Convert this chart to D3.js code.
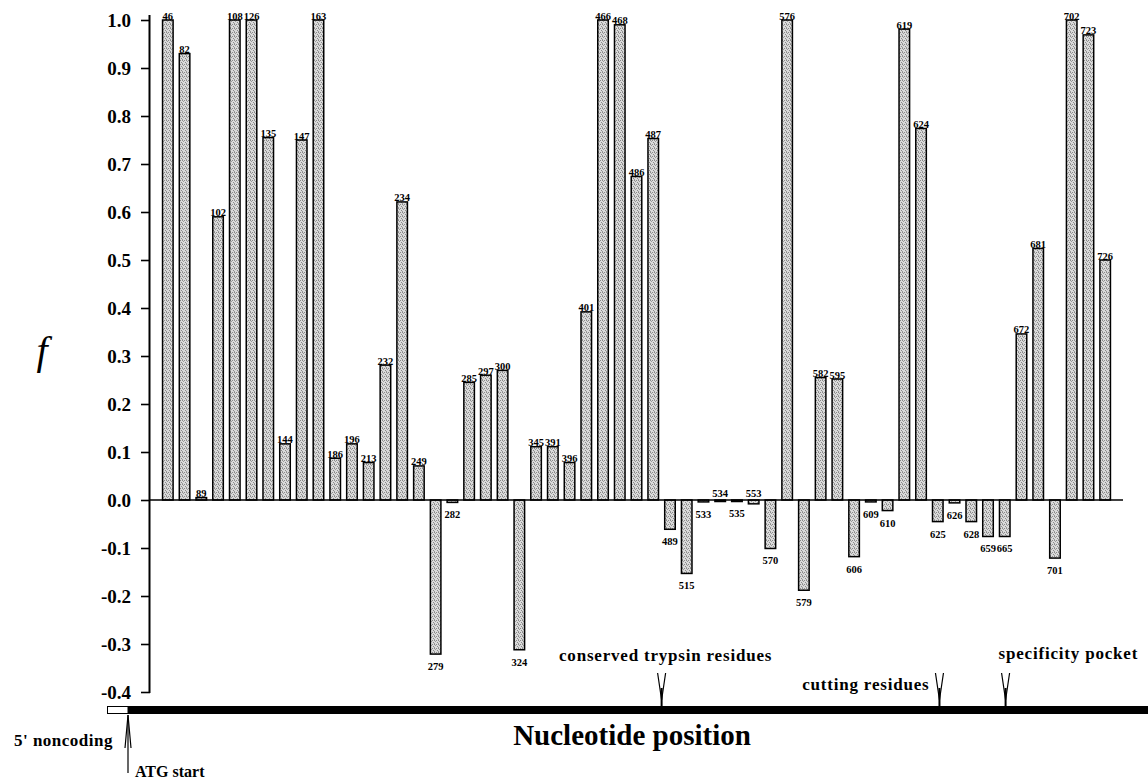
<!DOCTYPE html>
<html>
<head>
<meta charset="utf-8">
<script src="https://cdn.jsdelivr.net/npm/d3@7"></script>
<style>
	body { margin: 0; background: #ffffff; }
	svg { display: block; }
	text { font-family: 'Liberation Serif', 'Times New Roman', serif; font-weight: bold; fill: #000; }
</style>
</head>
<body>
<svg id="chart"></svg>
<script>
// ========== DATA ==========
var positions = ['46', '82', '89', '102', '108', '126', '135', '144', '147', '163',
	'186', '196', '213', '232', '234', '249', '279', '282', '285', '297',
	'300', '324', '345', '391', '396', '401', '466', '468', '486', '487',
	'489', '515', '533', '534', '535', '553', '570', '576', '579', '582',
	'595', '606', '609', '610', '619', '624', '625', '626', '628', '659',
	'665', '672', '681', '701', '702', '723', '726'];

var fValues = [1.0, 0.93, 0.005, 0.59, 1.0, 1.0, 0.755, 0.117, 0.75, 1.0,
	0.087, 0.117, 0.078, 0.281, 0.621, 0.071, -0.321, -0.005, 0.245, 0.26,
	0.27, -0.312, 0.111, 0.111, 0.078, 0.392, 1.0, 0.99, 0.674, 0.753,
	-0.061, -0.153, -0.004, -0.003, -0.003, -0.008, -0.101, 1.0, -0.188, 0.255,
	0.252, -0.118, -0.004, -0.022, 0.981, 0.774, -0.045, -0.006, -0.045, -0.076,
	-0.076, 0.346, 0.524, -0.121, 1.0, 0.969, 0.5];

// near-zero bars whose number sits above the axis anyway
var labelsAbove = ['534', '553'];

var yTicks = [-0.4, -0.3, -0.2, -0.1, 0.0, 0.1, 0.2, 0.3, 0.4, 0.5, 0.6, 0.7, 0.8, 0.9, 1.0];

// annotations on the nucleotide track: text, anchor position, shift in bar steps
var annotNames = ['conserved trypsin residues', 'cutting residues', 'specificity pocket'];
var annotAnchors = ['489', '625', '665'];
var annotShift = [-0.5, 0.1, 0.05];

// ========== LAYOUT ==========
var plotWidth = 1148;
var plotHeight = 783;
var plotLeft = 150;
var plotRight = 1123;
var plotTop = 20;
var zeroY = 500;

var data = positions.map(function(p, i) { return { pos: p, f: fValues[i] }; });

var svg = d3.select('#chart')
	.attr('width', plotWidth)
	.attr('height', plotHeight);

// stipple fill like the printed bars
var pat = svg.append('defs').append('pattern')
	.attr('id', 'stipple')
	.attr('width', 4)
	.attr('height', 4)
	.attr('patternUnits', 'userSpaceOnUse');
pat.append('rect').attr('width', 4).attr('height', 4).attr('fill', '#dadada');
[[0, 0], [3, 1], [1, 2], [2, 3], [2, 0]].forEach(function(p, i) {
	pat.append('rect')
		.attr('x', p[0]).attr('y', p[1])
		.attr('width', 1).attr('height', 1)
		.attr('fill', i % 2 ? '#9a9a9a' : '#8a8a8a');
});

var x = d3.scaleBand()
	.domain(positions)
	.range([plotLeft, plotRight])
	.paddingInner(0.37)
	.paddingOuter(0.75);

var y = d3.scaleLinear()
	.domain([0, 1])
	.range([zeroY, plotTop]);

// y axis
var yAxis = svg.append('g')
	.attr('transform', 'translate(' + plotLeft + ',0)')
	.call(d3.axisLeft(y)
		.tickValues(yTicks)
		.tickFormat(function(d) { return d3.format('.1f')(d).replace('\u2212', '-'); })
		.tickSize(9)
		.tickPadding(10));
yAxis.select('.domain')
	.attr('d', 'M-0.5,' + (plotTop - 5) + 'V' + (y(-0.4) + 1))
	.attr('stroke', '#000')
	.attr('stroke-width', 2);
yAxis.selectAll('.tick line').attr('stroke', '#000').attr('stroke-width', 1.6);
yAxis.selectAll('.tick text')
	.style('font-family', "'Liberation Serif', serif")
	.style('font-weight', 'bold')
	.style('font-size', '19px')
	.attr('fill', '#000');

svg.append('text')
	.attr('x', 42)
	.attr('y', 364)
	.attr('text-anchor', 'middle')
	.style('font-style', 'italic')
	.style('font-weight', 'normal')
	.style('font-size', '40px')
	.text('f');

// bars
svg.selectAll('.bar')
	.data(data)
	.enter().append('rect')
	.attr('class', 'bar')
	.attr('x', function(d) { return x(d.pos); })
	.attr('width', x.bandwidth())
	.attr('y', function(d) { return y(Math.max(0, d.f)); })
	.attr('height', function(d) { return Math.max(1.5, Math.abs(y(d.f) - y(0))); })
	.attr('fill', 'url(#stipple)')
	.attr('stroke', '#000')
	.attr('stroke-width', 1.5);

// zero line
svg.append('line')
	.attr('x1', plotLeft)
	.attr('x2', plotRight)
	.attr('y1', y(0))
	.attr('y2', y(0))
	.attr('stroke', '#000')
	.attr('stroke-width', 1.6);

// bar labels
svg.selectAll('.blabel')
	.data(data)
	.enter().append('text')
	.attr('class', 'blabel')
	.attr('text-anchor', 'middle')
	.style('font-size', '10.5px')
	.attr('x', function(d) { return x(d.pos) + x.bandwidth() / 2; })
	.attr('y', function(d) {
		if (labelsAbove.includes(d.pos)) return y(0) - 3;
		if (d.f >= 0) return y(d.f) - 0.5;
		return y(d.f) + 16;
	})
	.text(function(d) { return d.pos; });

// ========== NUCLEOTIDE TRACK ==========
var trackY = 710;
var atgX = 128;
svg.append('rect')
	.attr('x', atgX)
	.attr('y', trackY - 4)
	.attr('width', plotWidth - atgX)
	.attr('height', 8)
	.attr('fill', '#000');
svg.append('rect')
	.attr('x', 107.5)
	.attr('y', trackY - 3.5)
	.attr('width', atgX - 107.5)
	.attr('height', 7)
	.attr('fill', '#fff')
	.attr('stroke', '#000')
	.attr('stroke-width', 1);

// ATG start arrow
svg.append('line')
	.attr('x1', atgX).attr('x2', atgX)
	.attr('y1', trackY + 5).attr('y2', 773)
	.attr('stroke', '#000').attr('stroke-width', 1.2);
svg.append('path')
	.attr('d', 'M' + (atgX - 3) + ',' + (trackY + 38) + 'L' + atgX + ',' + (trackY + 5) + 'L' + (atgX + 3) + ',' + (trackY + 38))
	.attr('fill', 'none').attr('stroke', '#000').attr('stroke-width', 1.2);
svg.append('text')
	.attr('x', 113)
	.attr('y', 746)
	.attr('text-anchor', 'end')
	.style('font-size', '17px')
	.style('letter-spacing', '0.5px')
	.text("5' noncoding");
svg.append('text')
	.attr('x', 135)
	.attr('y', 777)
	.style('font-size', '16px')
	.text('ATG start');

svg.append('text')
	.attr('x', 632)
	.attr('y', 745)
	.attr('text-anchor', 'middle')
	.style('font-size', '29px')
	.text('Nucleotide position');

// annotation arrows
annotNames.forEach(function(name, i) {
	var ax = x(annotAnchors[i]) + x.bandwidth() / 2 + annotShift[i] * x.step();
	svg.append('path')
		.attr('d', 'M' + (ax - 4) + ',673L' + ax + ',700L' + (ax + 4) + ',673')
		.attr('fill', 'none').attr('stroke', '#000').attr('stroke-width', 1.2);
	svg.append('line')
		.attr('x1', ax).attr('x2', ax)
		.attr('y1', 688).attr('y2', trackY)
		.attr('stroke', '#000').attr('stroke-width', 2);
	var t = svg.append('text')
		.style('font-size', '17px')
		.style('letter-spacing', '0.8px')
		.text(name);
	if (i === 0) {
		t.attr('x', ax + 4).attr('y', 661).attr('text-anchor', 'middle');
	} else if (i === 1) {
		t.attr('x', ax - 10).attr('y', 690).attr('text-anchor', 'end');
	} else {
		t.attr('x', ax - 7).attr('y', 659).attr('text-anchor', 'start');
	}
});
</script>
</body>
</html>
